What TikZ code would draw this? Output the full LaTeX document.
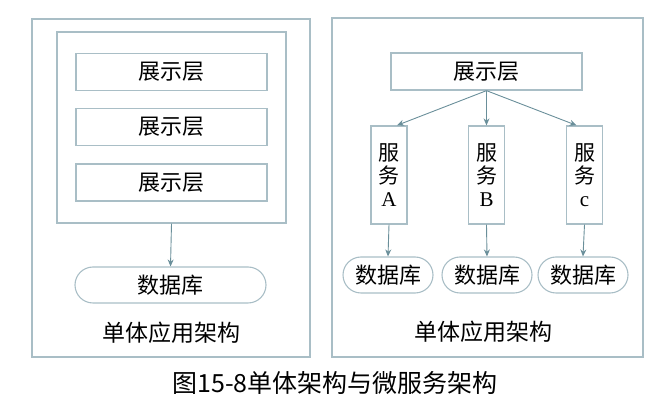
\documentclass[tikz,border=0pt]{standalone}
\usepackage{fontspec}
\setmainfont{Noto Sans CJK SC}
\newfontfamily\latinfont{Liberation Serif}
\usetikzlibrary{arrows.meta}

\definecolor{boxline}{HTML}{A9BEC6}
\definecolor{arrowline}{HTML}{6A8F9A}

\tikzset{
    framebox/.style={draw=boxline, line width=1.3pt, inner sep=0pt},
    layerbox/.style={framebox, minimum width=191pt, minimum height=37pt,
        font=\fontsize{22}{22}\selectfont},
    dbbox/.style={draw=boxline, line width=1.1pt, rounded corners=18pt, inner sep=0pt,
        minimum height=36pt, font=\fontsize{22}{22}\selectfont},
    svcbox/.style={framebox, minimum width=36pt, minimum height=98pt, align=center,
        font=\fontsize{21}{23}\selectfont},
    flow/.style={draw=arrowline, line width=0.9pt, -{Stealth[length=7pt,width=6pt]}},
    caption/.style={font=\fontsize{23}{23}\selectfont}
}

\begin{document}
\begin{tikzpicture}[x=1pt, y=-1pt]
        \useasboundingbox (0,0) rectangle (662,419);

        % Left: monolithic
        \node[framebox, minimum width=278pt, minimum height=338pt] (monoframe) at (171,188) {};
        \node[framebox, minimum width=229pt, minimum height=191pt] (monoapp) at (171.5,127.5) {};
        \node[layerbox] (monolayer1) at (171.5,72) {展示层};
        \node[layerbox] (monolayer2) at (171.5,127) {展示层};
        \node[layerbox] (monolayer3) at (171.5,182.5) {展示层};
        \node[dbbox, minimum width=191pt] (monodb) at (170.5,285) {数据库};
        \node[caption] (monolabel) at (171,333) {单体应用架构};
        \draw[flow] (monoapp.south) -- (monodb.north);

        % Right: microservices
        \node[framebox, minimum width=311pt, minimum height=339pt] (microframe) at (487.5,187.5) {};
        \node[layerbox] (microlayer) at (486.5,71.5) {展示层};
        \node[svcbox] (svcA) at (389,175) {服\\务\\{\latinfont A}};
        \node[svcbox] (svcB) at (486.5,175) {服\\务\\{\latinfont B}};
        \node[svcbox] (svcC) at (584.5,175) {服\\务\\{\latinfont c}};
        \node[dbbox, minimum width=90pt] (dbA) at (388,275) {数据库};
        \node[dbbox, minimum width=90pt] (dbB) at (487,275) {数据库};
        \node[dbbox, minimum width=90pt] (dbC) at (583,275) {数据库};
        \node[caption] (microlabel) at (483,332) {单体应用架构};

        \draw[flow] (microlayer.south) -- ([xshift=8pt]svcA.north);
        \draw[flow] (microlayer.south) -- (svcB.north);
        \draw[flow] (microlayer.south) -- ([xshift=-8pt]svcC.north);
        \draw[flow] (svcA.south) -- (dbA.north);
        \draw[flow] (svcB.south) -- (dbB.north);
        \draw[flow] (svcC.south) -- (dbC.north);

        % Figure caption
        \node[font=\fontsize{25}{25}\selectfont] (figcaption) at (335,383) {图15-8单体架构与微服务架构};
\end{tikzpicture}
\end{document}
